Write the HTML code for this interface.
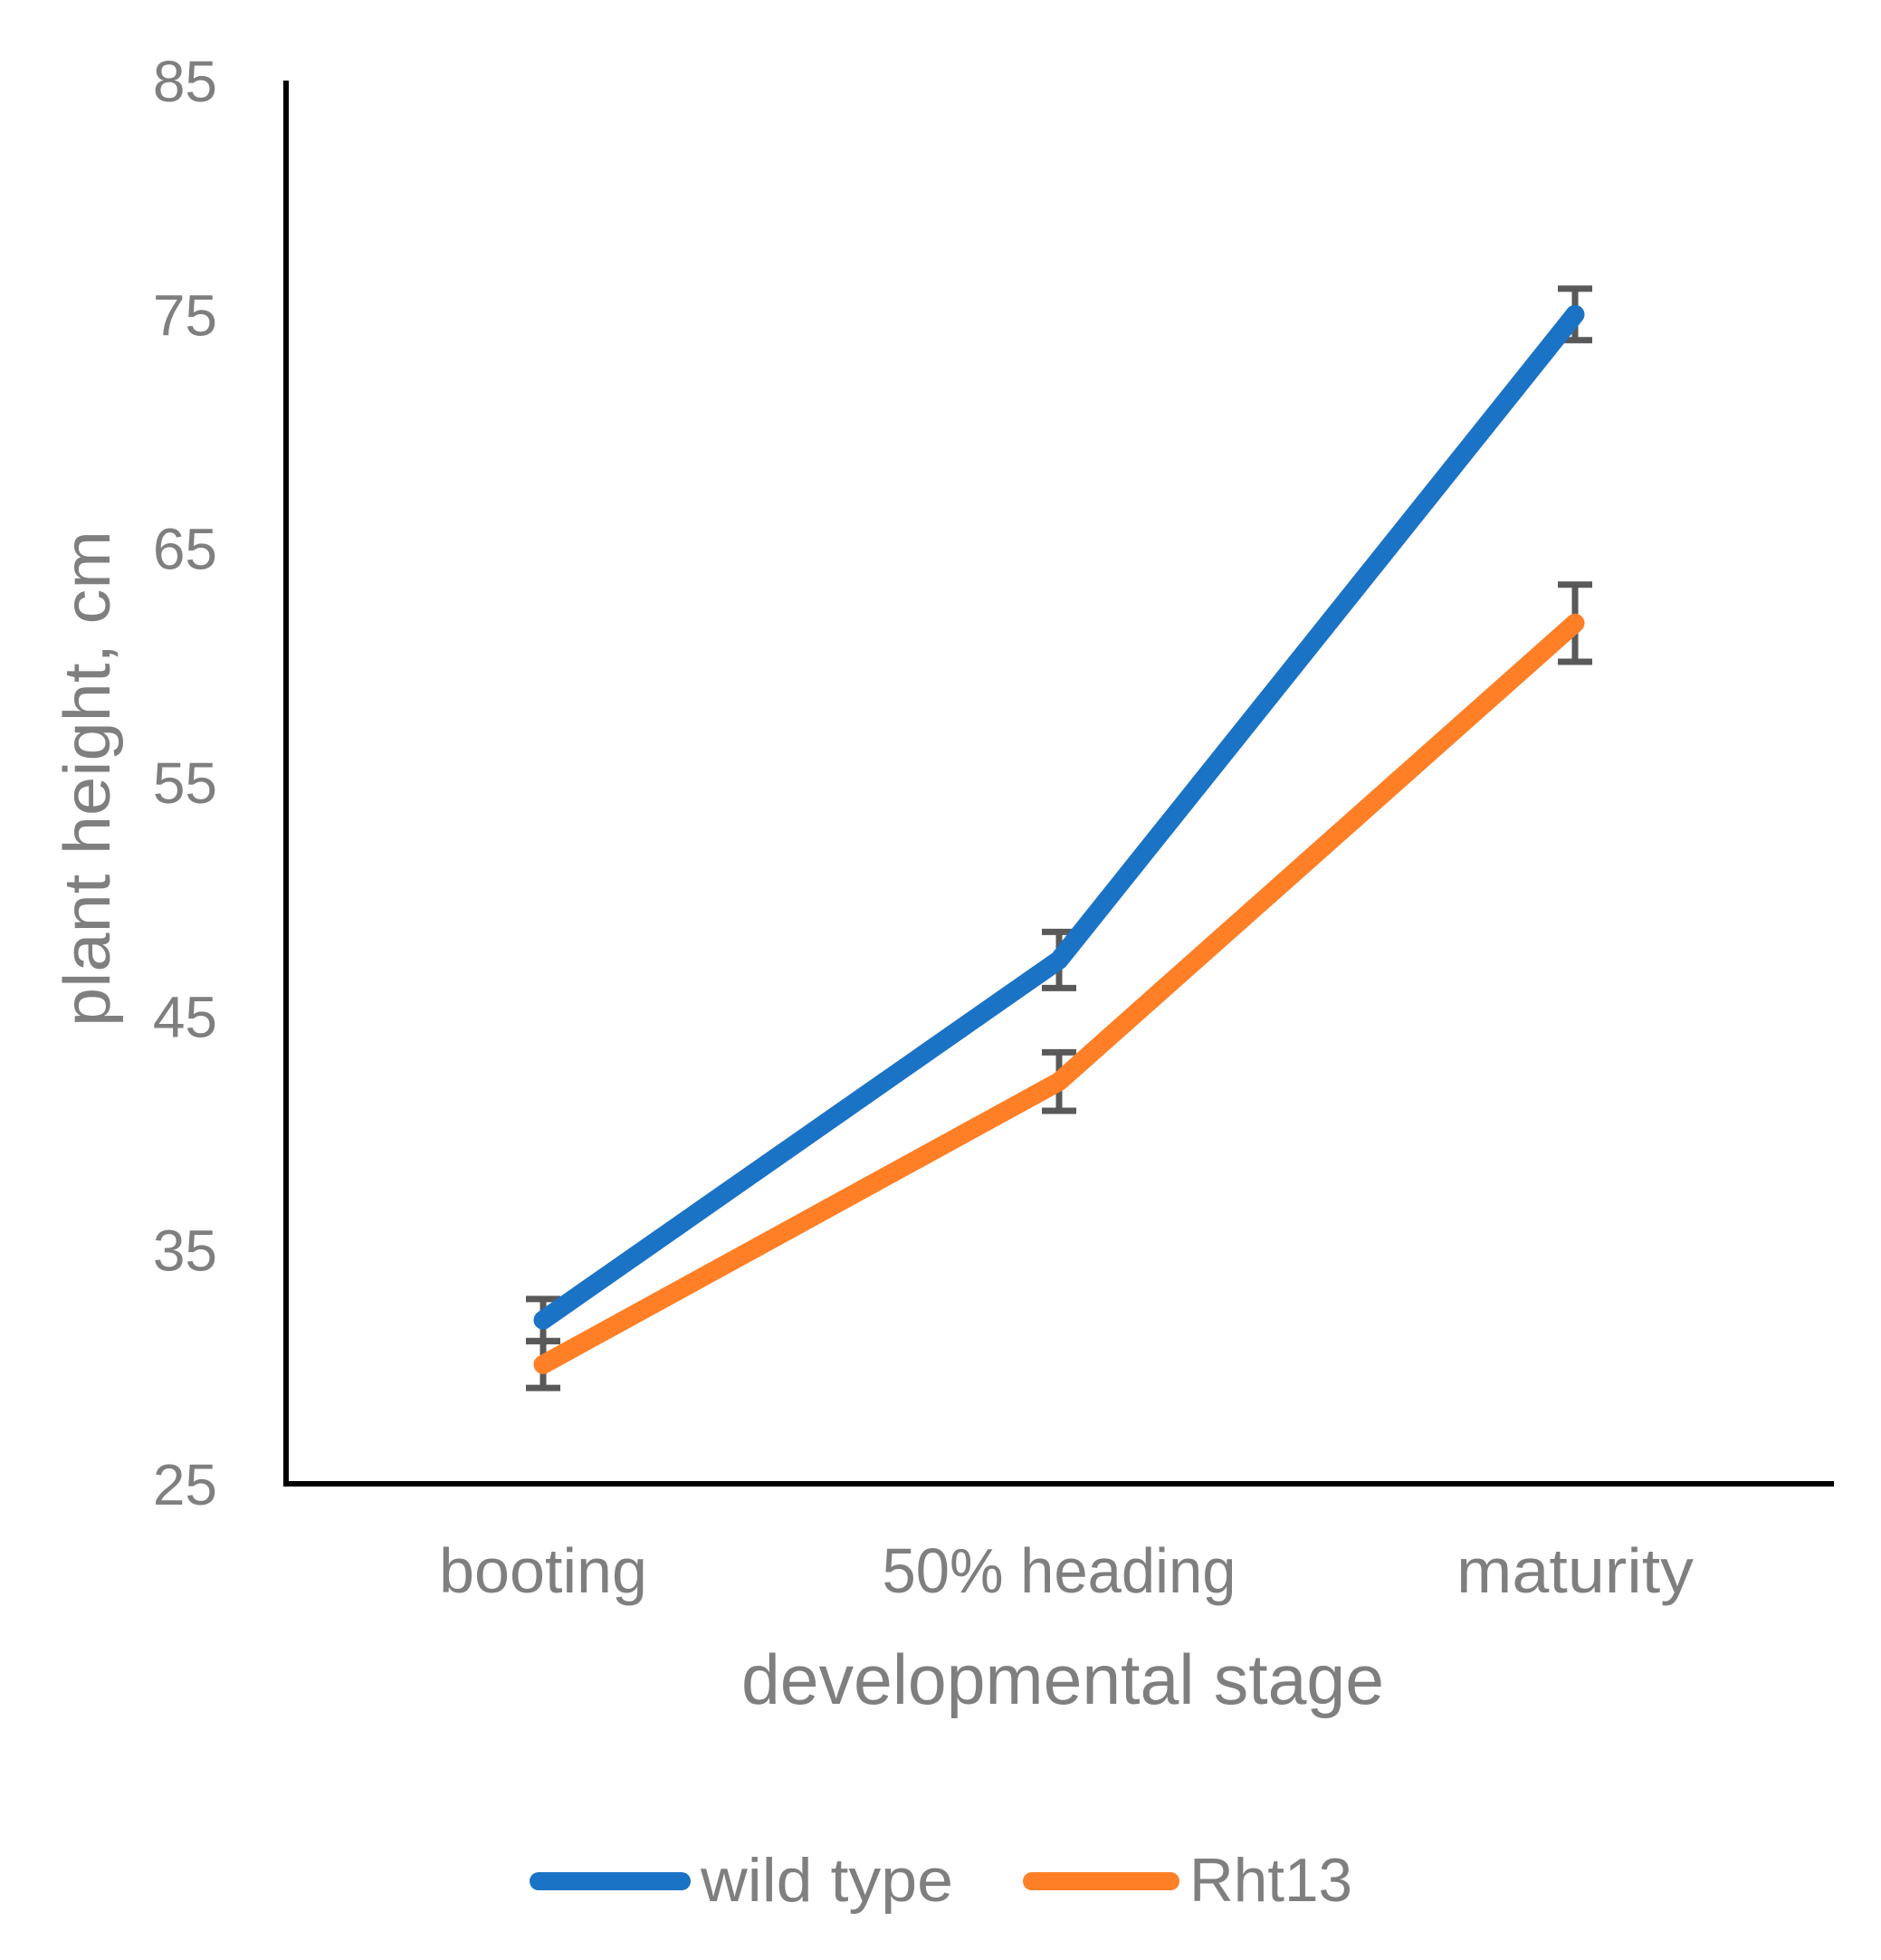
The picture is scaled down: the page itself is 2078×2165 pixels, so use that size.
<!DOCTYPE html>
<html><head><meta charset="utf-8"><style>
html,body{margin:0;padding:0;background:#fff;}
svg{display:block;font-family:"Liberation Sans",sans-serif;}
</style></head><body>
<svg id="chart" width="2078" height="2165" viewBox="0 0 2078 2165">
<g id="plot"></g>
<line x1="316" y1="89" x2="316" y2="1642" stroke="#000" stroke-width="6"/>
<line x1="313" y1="1639" x2="2026" y2="1639" stroke="#000" stroke-width="6"/>
<text x="121" y="860" transform="rotate(-90 121 860)" text-anchor="middle" font-size="72" fill="#7f7f7f" textLength="548" lengthAdjust="spacingAndGlyphs">plant height, cm</text>
<text x="1174" y="1882" text-anchor="middle" font-size="78" fill="#7f7f7f" textLength="710" lengthAdjust="spacingAndGlyphs">developmental stage</text>
<g>
<line x1="595" y1="2078" x2="753" y2="2078" stroke="#1b73c6" stroke-width="20" stroke-linecap="round"/>
<text x="774" y="2100" font-size="68" fill="#7f7f7f" textLength="279" lengthAdjust="spacingAndGlyphs">wild type</text>
<line x1="1140" y1="2078" x2="1293" y2="2078" stroke="#fe7f26" stroke-width="20" stroke-linecap="round"/>
<text x="1314" y="2100" font-size="68" fill="#7f7f7f" textLength="180" lengthAdjust="spacingAndGlyphs">Rht13</text>
</g>
</svg>
<script>
const categories = ["booting", "50% heading", "maturity"];
const wildType = [32.0, 47.4, 75.0];
const wildErr = [0.9, 1.2, 1.1];
const rht13 = [30.1, 42.2, 61.8];
const rhtErr = [1.0, 1.25, 1.65];
const yTicks = [25, 35, 45, 55, 65, 75, 85];
const catWidths = [230, 391, 262];

const NS = "http://www.w3.org/2000/svg";
const plot = document.getElementById("plot");
const svg = document.getElementById("chart");
const yMin = 25, yMax = 85, yTop = 89, yBot = 1639;
const xLeft = 316, xRight = 2026;
function yScale(v){ return yBot - (v - yMin) / (yMax - yMin) * (yBot - yTop); }
function xScale(i){ const w = (xRight - xLeft) / categories.length; return xLeft + w * (i + 0.5) - 1; }
function mk(tag, attrs){ const e = document.createElementNS(NS, tag); for (const k in attrs) e.setAttribute(k, attrs[k]); return e; }

yTicks.forEach(function(t){
  const tx = mk("text", {x: 240, y: yScale(t) + 23, "text-anchor": "end", "font-size": 64, fill: "#7f7f7f"});
  tx.textContent = String(t);
  
  
  svg.appendChild(tx);
});
categories.forEach(function(c, i){
  const tx = mk("text", {x: xScale(i), y: 1759, "text-anchor": "middle", "font-size": 70, fill: "#7f7f7f", textLength: catWidths[i], lengthAdjust: "spacingAndGlyphs"});
  tx.textContent = c;
  
  
  svg.appendChild(tx);
});

function drawSeries(vals, errs, color, name){
  const g = mk("g", {});
  
  
  vals.forEach(function(v, i){
    const x = xScale(i), y1 = yScale(v + errs[i]), y2 = yScale(v - errs[i]);
    const eb = mk("path", {d: "M" + x + " " + y1 + "V" + y2 + "M" + (x - 19) + " " + y1 + "H" + (x + 19) + "M" + (x - 19) + " " + y2 + "H" + (x + 19), stroke: "#595959", "stroke-width": 7, fill: "none"});
    
    
    g.appendChild(eb);
  });
  const pts = vals.map(function(v, i){ return xScale(i) + "," + yScale(v); }).join(" ");
  const pl = mk("polyline", {points: pts, fill: "none", stroke: color, "stroke-width": 21, "stroke-linecap": "round", "stroke-linejoin": "round"});
  
  
  g.appendChild(pl);
  plot.appendChild(g);
}
drawSeries(rht13, rhtErr, "#fe7f26", "rht13");
drawSeries(wildType, wildErr, "#1b73c6", "wild-type");
</script>
</body></html>
